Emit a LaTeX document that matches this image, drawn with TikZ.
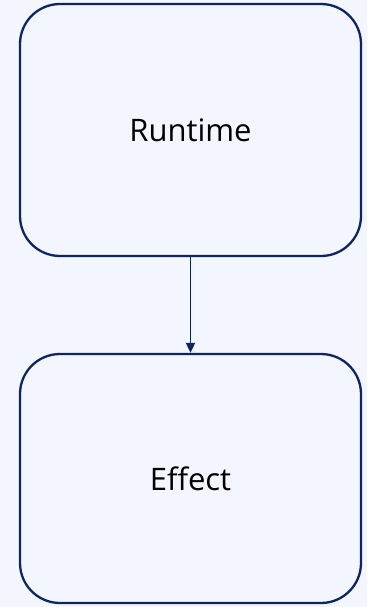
\documentclass[tikz,border=0pt]{standalone}
\usepackage{fontspec}
\setmainfont{Open Sans}
\usetikzlibrary{arrows.meta}
\definecolor{bg}{HTML}{F3F6FF}
\definecolor{navy}{HTML}{0F2563}
\tikzset{
  box/.style={draw=navy, line width=2.3pt, rounded corners=40pt, minimum width=341pt, inner sep=0pt, text=black},
  lbl/.style={font=\fontsize{31pt}{36pt}\selectfont},
  conn/.style={draw=navy, line width=1.8pt, -{Triangle[length=10pt,width=9pt]}}
}
\begin{document}
\begin{tikzpicture}[x=1pt,y=1pt]
\fill[bg] (0,0) rectangle (367,-607);
\useasboundingbox (0,0) rectangle (367,-607);
\node[box, lbl, minimum height=252pt] (runtime) at (190.5,-130) {\raisebox{-2pt}{Runtime}};
\node[box, lbl, minimum height=249pt] (effect) at (190.5,-478.5) {\raisebox{-3pt}{Effect}};
\draw[conn] (runtime.south) -- (effect.north);
\end{tikzpicture}
\end{document}
